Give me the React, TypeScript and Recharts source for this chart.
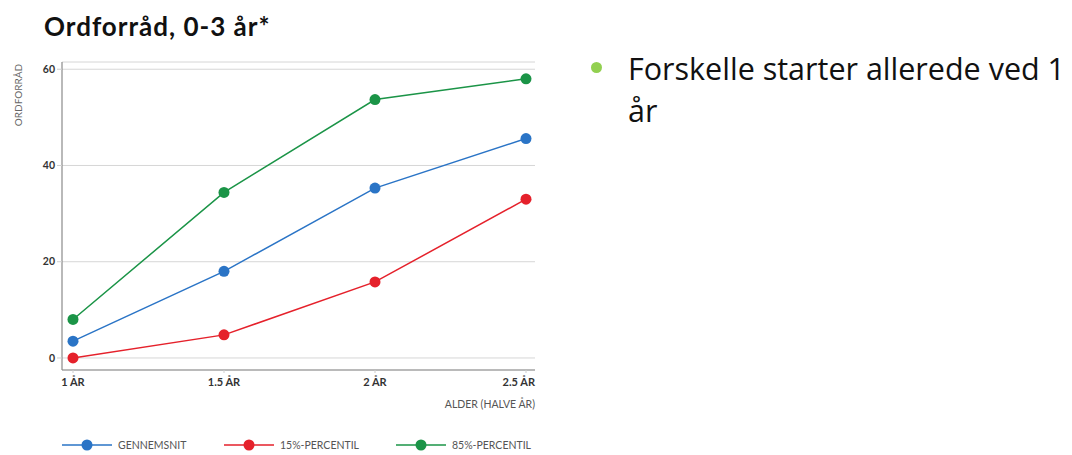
import React from 'react';
import { LineChart, Line, XAxis, YAxis, CartesianGrid, Legend } from 'recharts';

const ages = ['1 ÅR', '1.5 ÅR', '2 ÅR', '2.5 ÅR'];
const gennemsnit = [3.5, 18, 35.3, 45.6];
const percentil15 = [0, 4.8, 15.8, 33];
const percentil85 = [8, 34.4, 53.7, 58];
const yTicks = [0, 20, 40, 60];

const series = [
  { key: 'gennemsnit', name: 'GENNEMSNIT', color: '#2a74c6', values: gennemsnit },
  { key: 'p15', name: '15%-PERCENTIL', color: '#e5212b', values: percentil15 },
  { key: 'p85', name: '85%-PERCENTIL', color: '#1b9447', values: percentil85 },
];

const data = ages.map((age, i) => {
  const row: any = { age };
  series.forEach((s) => { row[s.key] = s.values[i]; });
  return row;
});

const chartFont = 'Lato, "DejaVu Sans", sans-serif';

// last tick label is pulled inside the plot, like the original
const AgeTick = ({ x, y, payload, index }: any) => {
  const last = index === ages.length - 1;
  return (
    <text
      x={last ? x + 9 : x}
      y={y + 11}
      textAnchor={last ? 'end' : 'middle'}
      fontSize={11}
      fontWeight={700}
      fill="#333"
      fontFamily={chartFont}
    >
      {payload.value}
    </text>
  );
};

const legendLeft = [0, 162, 334];

const LegendContent = () => (
  <div style={{ position: 'relative', height: 14, fontFamily: chartFont }}>
    {series.map((s, i) => (
      <div key={s.key} style={{ position: 'absolute', left: legendLeft[i], top: 0, display: 'flex', alignItems: 'center', whiteSpace: 'nowrap' }}>
        <svg width={50} height={14}>
          <line x1={0} y1={7} x2={50} y2={7} stroke={s.color} strokeWidth={1.5} />
          <circle cx={25} cy={7} r={5.5} fill={s.color} />
        </svg>
        <span style={{ fontSize: 10.5, color: '#555', marginLeft: 6 }}>{s.name}</span>
      </div>
    ))}
  </div>
);

export default function App() {
  return (
    <div style={{ position: 'fixed', left: 0, top: 0, width: 1072, height: 455, background: '#fff', overflow: 'hidden' }}>
      <div style={{ position: 'absolute', left: 44, top: 13, fontFamily: 'Lato, sans-serif', fontWeight: 700, fontSize: 26, lineHeight: '26px', color: '#111', letterSpacing: 1, whiteSpace: 'nowrap' }}>
        Ordforråd, 0-3 år*
      </div>
      <div
        style={{
          position: 'absolute', left: 18, top: 95, transform: 'translate(-50%, -50%) rotate(-90deg)',
          fontFamily: chartFont, fontSize: 10, color: '#666', whiteSpace: 'nowrap',
        }}
      >
        ORDFORRÅD
      </div>
      <div style={{ position: 'absolute', left: 0, top: 0 }}>
        <LineChart width={560} height={455} data={data} margin={{ top: 62, right: 25, left: 38, bottom: 55 }}>
          <CartesianGrid horizontal vertical={false} stroke="#d6d6d6" />
          <XAxis
            dataKey="age"
            height={30}
            padding={{ left: 11, right: 9 }}
            axisLine={{ stroke: '#8a8a8a', strokeWidth: 1.2 }}
            tickLine={{ stroke: '#cfcfcf' }}
            tickSize={3}
            tick={<AgeTick />}
            interval={0}
          />
          <YAxis
            width={24}
            type="number"
            domain={[-2.5, 61.5]}
            ticks={yTicks}
            axisLine={{ stroke: '#8a8a8a', strokeWidth: 1.2 }}
            tickLine={{ stroke: '#cfcfcf' }}
            tickSize={5}
            tick={{ fontSize: 10.5, fontWeight: 700, fill: '#333', fontFamily: chartFont }}
          />
          <Legend
            layout="horizontal"
            verticalAlign="middle"
            align="center"
            content={<LegendContent />}
            wrapperStyle={{ position: 'absolute', left: 62, top: 438, width: 500 }}
          />
          {series.map((s) => (
            <Line
              key={s.key}
              dataKey={s.key}
              name={s.name}
              stroke={s.color}
              strokeWidth={1.5}
              dot={{ r: 5.5, fill: s.color, stroke: s.color, strokeWidth: 0 }}
              activeDot={false}
              isAnimationActive={false}
            />
          ))}
        </LineChart>
        <div
          style={{
            position: 'absolute', left: 400, top: 398, width: 135, textAlign: 'right',
            fontFamily: chartFont, fontSize: 10.5, color: '#555', whiteSpace: 'nowrap',
          }}
        >
          ALDER (HALVE ÅR)
        </div>
      </div>
      <div style={{ position: 'absolute', left: 591, top: 62, width: 11, height: 11, borderRadius: 6, background: '#92d050' }} />
      <div style={{ position: 'absolute', left: 628, top: 47, fontFamily: '"Open Sans", Lato, sans-serif', fontSize: 30.5, lineHeight: '42px', color: '#111', whiteSpace: 'nowrap' }}>
        Forskelle starter allerede ved 1
        <br />
        år
      </div>
    </div>
  );
}
